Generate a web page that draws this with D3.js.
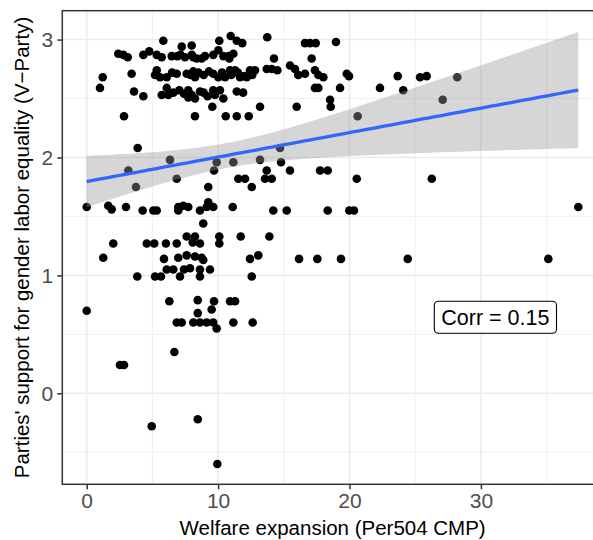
<!DOCTYPE html>
<html>
<head>
<meta charset="utf-8">
<script src="https://cdn.jsdelivr.net/npm/d3@7"></script>
<style>
  body { margin: 0; background: #fff; }
  svg { display: block; font-family: "Liberation Sans", Arial, sans-serif; }
</style>
</head>
<body>
<div id="chart"></div>
<script>
// welfare expansion (Per504 CMP) and parties' support (V-Party)
const welfare = [
  5.83, 7.23, 7.99, 10.09, 10.96, 11.42, 11.84, 2.40, 2.79, 3.12, 4.31, 4.76, 5.33, 5.71, 6.47, 7.15,
  7.48, 8.11, 8.37, 8.75, 9.63, 10.02, 10.85, 11.16, 1.22, 1.01, 3.42, 3.60, 4.31, 5.33, 5.20, 5.58,
  6.09, 6.85, 7.61, 8.11, 8.24, 9.63, 10.02, 10.53, 10.91, 11.29, 11.67, 12.18, 12.43, 12.81, 6.09, 5.71,
  6.21, 7.05, 7.73, 7.99, 8.24, 8.62, 7.73, 9.63, 10.14, 10.40, 9.76, 11.42, 2.84, 8.24, 9.56, 10.58,
  11.42, 12.33, 13.19, 3.88, 3.17, 6.34, 6.85, 9.69, 9.89, 11.16, 13.19, 11.54, 12.05, 13.74, 16.61, 16.99,
  17.43, 18.97, 14.25, 17.12, 13.70, 14.08, 14.51, 15.47, 15.85, 16.10, 16.61, 17.37, 17.63, 18.01, 19.79, 19.96,
  17.37, 17.63, 19.28, 18.52, 18.57, 15.98, 20.62, 22.32, 23.67, 24.09, 25.37, 25.87, 27.09, 28.20, 14.71, 14.79,
  13.70, 15.47, 17.76, 18.34, 13.57, 14.08, 20.55, 26.26, 3.75, 9.25, 12.56, 0.00, 1.64, 1.90, 2.99, 4.26,
  5.07, 5.33, 6.97, 7.35, 7.73, 6.97, 8.62, 9.25, 9.63, 9.13, 11.11, 8.87, 2.02, 4.57, 5.14, 6.03,
  6.85, 7.61, 8.24, 8.07, 8.62, 10.09, 10.09, 11.72, 1.26, 5.88, 6.97, 7.61, 8.24, 8.75, 8.87, 12.43,
  13.06, 6.09, 6.59, 7.40, 7.86, 8.62, 9.38, 7.10, 3.85, 5.20, 5.65, 8.62, 12.56, 0.00, 6.29, 8.45,
  8.45, 9.69, 9.51, 10.91, 11.29, 6.85, 7.23, 8.11, 8.62, 9.13, 9.63, 9.89, 11.16, 12.63, 6.67, 2.53,
  2.84, 4.95, 8.45, 9.94, 14.20, 15.22, 18.34, 19.98, 20.34, 13.90, 16.16, 17.55, 19.35, 24.43, 37.41, 35.13,
  // overlapping points hidden inside the dense upper cluster
  11.50, 12.00, 7.90, 8.90, 9.30, 10.30, 6.60, 8.90, 9.20, 7.40, 10.80, 6.90, 8.00, 9.00, 10.40, 12.60,
  11.90, 11.00, 6.50, 8.50
];
const support = [
  2.99, 2.94, 2.95, 2.99, 3.03, 2.99, 2.97, 2.88, 2.87, 2.85, 2.87, 2.90, 2.87, 2.85, 2.86, 2.87,
  2.85, 2.85, 2.84, 2.84, 2.87, 2.91, 2.84, 2.88, 2.68, 2.59, 2.71, 2.56, 2.52, 2.74, 2.70, 2.68,
  2.68, 2.71, 2.71, 2.73, 2.68, 2.71, 2.68, 2.68, 2.74, 2.74, 2.68, 2.68, 2.74, 2.74, 2.59, 2.53,
  2.53, 2.57, 2.57, 2.53, 2.50, 2.56, 2.51, 2.57, 2.57, 2.50, 2.53, 2.56, 2.35, 2.35, 2.43, 2.35,
  2.35, 2.35, 2.43, 2.08, 1.89, 1.98, 1.82, 1.89, 1.96, 1.96, 1.98, 1.82, 1.82, 3.02, 2.97, 2.97,
  2.97, 2.98, 2.84, 2.84, 2.75, 2.75, 2.74, 2.78, 2.75, 2.70, 2.71, 2.74, 2.70, 2.68, 2.71, 2.69,
  2.59, 2.59, 2.59, 2.49, 2.43, 2.43, 2.35, 2.59, 2.69, 2.57, 2.68, 2.69, 2.49, 2.68, 2.08, 1.96,
  1.89, 1.89, 1.89, 1.89, 1.82, 1.82, 1.82, 1.82, 1.75, 1.75, 1.75, 1.58, 1.59, 1.56, 1.58, 1.55,
  1.55, 1.55, 1.58, 1.59, 1.58, 1.55, 1.55, 1.62, 1.58, 1.58, 1.58, 1.44, 1.27, 1.27, 1.27, 1.27,
  1.27, 1.33, 1.33, 1.28, 1.27, 1.33, 1.27, 1.33, 1.15, 1.14, 1.15, 1.17, 1.16, 1.15, 1.13, 1.14,
  1.17, 1.05, 1.05, 1.05, 1.06, 1.05, 1.05, 0.99, 0.99, 0.99, 0.99, 0.99, 0.99, 0.70, 0.78, 0.79,
  0.68, 0.78, 0.71, 0.78, 0.78, 0.60, 0.60, 0.60, 0.60, 0.60, 0.60, 0.55, 0.60, 0.60, 0.35, 0.24,
  0.24, -0.28, -0.22, -0.60, 1.55, 1.55, 1.55, 1.55, 1.55, 1.33, 1.14, 1.14, 1.14, 1.14, 1.58, 1.14,
  2.72, 2.69, 2.70, 2.70, 2.73, 2.72, 2.55, 2.55, 2.52, 2.54, 2.86, 2.86, 2.87, 2.86, 2.86, 2.70,
  2.55, 2.70, 2.72, 2.72
];
const xTicks = [0, 10, 20, 30];
const xMinor = [5, 15, 25, 35];
const yTicks = [0, 1, 2, 3];
const yMinor = [-0.5, 0.5, 1.5, 2.5];
const corrLabel = "Corr = 0.15";
const corrPos = [31.1, 0.645];

const width = 593, height = 540;
const margin = { top: 10.7, left: 62.3, bottom: 55.7 };
const panelRight = 603;  // panel runs past the right edge of the picture

const data = welfare.map((w, i) => ({ x: w, y: support[i] }));

const xScale = d3.scaleLinear().domain([-1.857, 39.29]).range([margin.left, panelRight]);
const yScale = d3.scaleLinear().domain([-0.772, 3.245]).range([height - margin.bottom, margin.top]);

const svg = d3.select("#chart").append("svg")
  .attr("width", width)
  .attr("height", height);

const panelW = panelRight - margin.left;
const panelH = height - margin.bottom - margin.top;

svg.append("rect")
  .attr("x", margin.left).attr("y", margin.top)
  .attr("width", panelW).attr("height", panelH)
  .attr("fill", "#fff");

// grid
const grid = svg.append("g").attr("stroke", "#ebebeb");
grid.selectAll(".xminor").data(xMinor).enter().append("line")
  .attr("x1", d => xScale(d)).attr("x2", d => xScale(d))
  .attr("y1", margin.top).attr("y2", height - margin.bottom)
  .attr("stroke-width", 0.8);
grid.selectAll(".yminor").data(yMinor).enter().append("line")
  .attr("y1", d => yScale(d)).attr("y2", d => yScale(d))
  .attr("x1", margin.left).attr("x2", panelRight)
  .attr("stroke-width", 0.8);
grid.selectAll(".xmajor").data(xTicks).enter().append("line")
  .attr("x1", d => xScale(d)).attr("x2", d => xScale(d))
  .attr("y1", margin.top).attr("y2", height - margin.bottom)
  .attr("stroke-width", 1.5);
grid.selectAll(".ymajor").data(yTicks).enter().append("line")
  .attr("y1", d => yScale(d)).attr("y2", d => yScale(d))
  .attr("x1", margin.left).attr("x2", panelRight)
  .attr("stroke-width", 1.5);

// points
svg.append("g").selectAll("circle")
  .data(data)
  .enter()
  .append("circle")
  .attr("cx", d => xScale(d.x))
  .attr("cy", d => yScale(d.y))
  .attr("r", 4.3)
  .attr("fill", "#000");

// linear fit with 95% band (like geom_smooth(method = "lm"))
const n = data.length;
const xbar = d3.mean(data, d => d.x);
const ybar = d3.mean(data, d => d.y);
const sxx = d3.sum(data, d => (d.x - xbar) ** 2);
const sxy = d3.sum(data, d => (d.x - xbar) * (d.y - ybar));
const slope = sxy / sxx;
const intercept = ybar - slope * xbar;
const sse = d3.sum(data, d => (d.y - intercept - slope * d.x) ** 2);
const s = Math.sqrt(sse / (n - 2));
const tq = 1.971;
const xExt = d3.extent(data, d => d.x);
const fit = d3.range(80).map(i => {
  const xv = xExt[0] + (xExt[1] - xExt[0]) * i / 79;
  const yv = intercept + slope * xv;
  const se = s * Math.sqrt(1 / n + (xv - xbar) ** 2 / sxx);
  return { x: xv, y: yv, lo: yv - tq * se, hi: yv + tq * se };
});

svg.append("path")
  .attr("d", d3.area().x(d => xScale(d.x)).y0(d => yScale(d.lo)).y1(d => yScale(d.hi))(fit))
  .attr("fill", "#999999")
  .attr("fill-opacity", 0.4);

svg.append("path")
  .attr("d", d3.line().x(d => xScale(d.x)).y(d => yScale(d.y))(fit))
  .attr("fill", "none")
  .attr("stroke", "#3366FF")
  .attr("stroke-width", 3.3);

// correlation label
const lab = svg.append("g");
const labText = lab.append("text")
  .attr("x", xScale(corrPos[0]))
  .attr("y", yScale(corrPos[1]))
  .attr("dy", "0.36em")
  .attr("text-anchor", "middle")
  .attr("font-size", 21.5)
  .attr("fill", "#000")
  .text(corrLabel);
const bb = labText.node().getBBox();
lab.insert("rect", "text")
  .attr("x", bb.x - 7).attr("y", yScale(corrPos[1]) - 16)
  .attr("width", bb.width + 14).attr("height", 32)
  .attr("rx", 4)
  .attr("fill", "#fff")
  .attr("stroke", "#000")
  .attr("stroke-width", 1.1);

// panel border
svg.append("rect")
  .attr("x", margin.left).attr("y", margin.top)
  .attr("width", panelW).attr("height", panelH)
  .attr("fill", "none")
  .attr("stroke", "#333333")
  .attr("stroke-width", 1.5);

// axes
const xAxis = d3.axisBottom(xScale).tickValues(xTicks).tickFormat(d3.format("d")).tickSize(5).tickPadding(4);
const gx = svg.append("g")
  .attr("transform", `translate(0,${height - margin.bottom})`)
  .call(xAxis);
gx.select(".domain").remove();
gx.selectAll("line").attr("stroke", "#333333").attr("stroke-width", 1.5);
gx.selectAll("text").attr("fill", "#4d4d4d").attr("font-size", 21).attr("font-family", "Liberation Sans, Arial, sans-serif");

const yAxis = d3.axisLeft(yScale).tickValues(yTicks).tickFormat(d3.format("d")).tickSize(5).tickPadding(4);
const gy = svg.append("g")
  .attr("transform", `translate(${margin.left},0)`)
  .call(yAxis);
gy.select(".domain").remove();
gy.selectAll("line").attr("stroke", "#333333").attr("stroke-width", 1.5);
gy.selectAll("text").attr("fill", "#4d4d4d").attr("font-size", 21).attr("font-family", "Liberation Sans, Arial, sans-serif");

// axis titles
svg.append("text")
  .attr("x", (margin.left + panelRight) / 2)
  .attr("y", 535)
  .attr("text-anchor", "middle")
  .attr("font-size", 20.5)
  .attr("fill", "#000")
  .text("Welfare expansion (Per504 CMP)");

svg.append("text")
  .attr("transform", "rotate(-90)")
  .attr("x", -(margin.top + height - margin.bottom) / 2)
  .attr("y", 29)
  .attr("text-anchor", "middle")
  .attr("font-size", 20.5)
  .attr("fill", "#000")
  .text("Parties' support for gender labor equality (V\u2212Party)");
</script>
</body>
</html>
